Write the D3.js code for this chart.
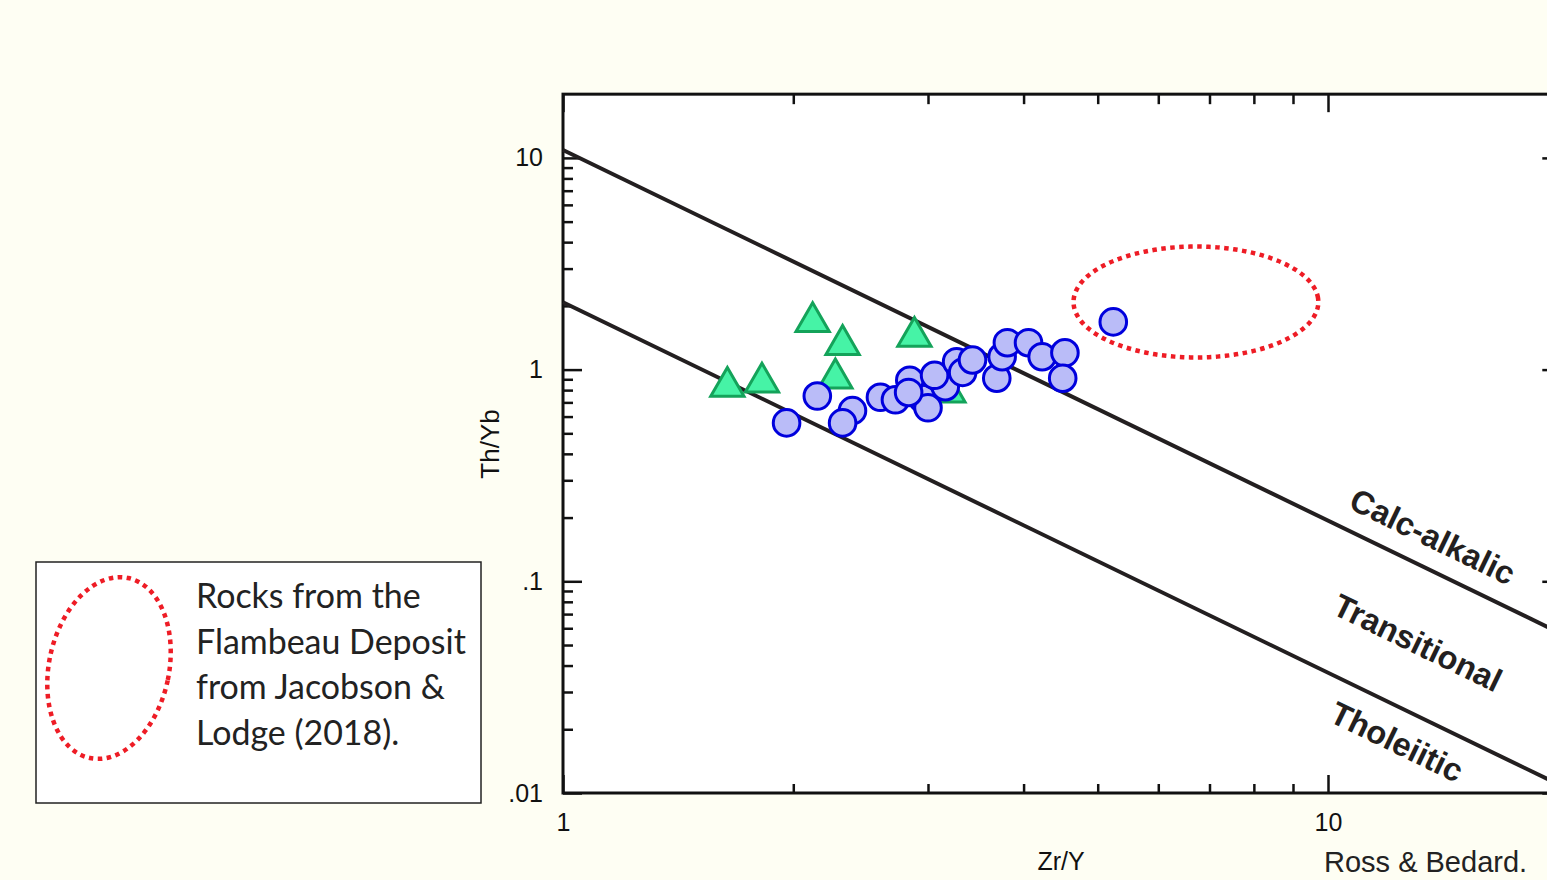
<!DOCTYPE html>
<html>
<head>
<meta charset="utf-8">
<script src="https://cdn.jsdelivr.net/npm/d3@7"></script>
<style>
  html, body { margin: 0; padding: 0; background: #fefef3; overflow: hidden; }
  svg { display: block; }
</style>
</head>
<body>
<svg id="chart" width="1547" height="880"></svg>
<script>
// Ross & Bedard Th/Yb vs Zr/Y diagram

// sample points (Zr/Y, Th/Yb)
var triZr = [1.64, 1.82, 2.12, 2.32, 2.27, 2.88, 3.19];
var triTh = [0.83, 0.87, 1.68, 1.31, 0.91, 1.43, 0.78];

var circZr = [1.96, 2.15, 2.39, 2.32, 2.60, 2.72, 2.95, 3.00, 3.16, 2.84, 3.06, 3.27, 3.33, 3.43,
              3.69, 3.75, 3.81, 4.06, 4.23, 4.53, 4.50, 5.24, 2.83];
var circTh = [0.56, 0.75, 0.64, 0.56, 0.74, 0.72, 0.73, 0.66, 0.83, 0.89, 0.94, 1.09, 0.97, 1.11,
              0.91, 1.15, 1.34, 1.34, 1.15, 1.20, 0.91, 1.68, 0.78];

// field boundaries (two points each, at Zr/Y = 1 and 20)
var upperLine = [[1, 10.9], [20, 0.0575]];
var lowerLine = [[1, 2.08], [20, 0.011]];

// field names and where they sit (data coords)
var fieldNames = ["Calc-alkalic", "Transitional", "Tholeiitic"];
var fieldZr = [13.7, 13.1, 12.3];
var fieldTh = [0.162, 0.0511, 0.0174];

// Flambeau field ellipse: centre and half-widths in decades
var flambeauCentre = [6.72, 2.086];
var flambeauRadii = [0.160, 0.262];

// axis ticks
var yMajor = [0.01, 0.1, 1, 10];
var yLabels = [".01", ".1", "1", "10"];
var xMajor = [1, 10];
var xLabels = ["1", "10"];

var legendLines = ["Rocks from the", "Flambeau Deposit", "from Jacobson &", "Lodge (2018)."];

var svg = d3.select("#chart");

var left = 563, bottom = 793;
var xDec = 765, yDec = 211.7;

var x = d3.scaleLog().domain([1, 20]).range([left, left + xDec * Math.log10(20)]);
var y = d3.scaleLog().domain([0.01, 20]).range([bottom, bottom - yDec * (2 + Math.log10(20))]);

var x0 = x.range()[0], x1 = x.range()[1];
var y0 = y.range()[0], y1 = y.range()[1];

function minorTicks(scale) {
    var d = scale.domain(), out = [];
    for (var p = Math.floor(Math.log10(d[0])); p <= Math.ceil(Math.log10(d[1])); p++) {
        for (var m = 2; m <= 9; m++) {
            var v = m * Math.pow(10, p);
            if (v > d[0] && v < d[1]) out.push(v);
        }
    }
    return out;
}

// plot area
svg.append("rect")
    .attr("x", x0).attr("y", y1)
    .attr("width", x1 - x0).attr("height", y0 - y1)
    .attr("fill", "#fff");

// axes with inward ticks
function addAxis(axisFn, scale, transform, values, size, fmt, pad) {
    var a = axisFn(scale).tickValues(values).tickSizeInner(-size).tickSizeOuter(0)
        .tickPadding(pad || 0)
        .tickFormat(fmt ? function(d, i) { return fmt[i]; } : function() { return ""; });
    var g = svg.append("g").attr("transform", transform).call(a);
    g.select(".domain").remove();
    g.selectAll(".tick line").attr("stroke", "#111").attr("stroke-width", 2.5);
    g.selectAll("text")
        .attr("fill", "#111")
        .style("font-family", "'Liberation Sans', Arial, sans-serif")
        .style("font-size", "25px");
    return g;
}

addAxis(d3.axisLeft, y, "translate(" + x0 + ",0)", yMajor, 19, yLabels, 20);
addAxis(d3.axisLeft, y, "translate(" + x0 + ",0)", minorTicks(y), 10);
addAxis(d3.axisRight, y, "translate(" + x1 + ",0)", yMajor, 16);
addAxis(d3.axisRight, y, "translate(" + x1 + ",0)", minorTicks(y), 10);
addAxis(d3.axisBottom, x, "translate(0," + y0 + ")", xMajor, 18, xLabels, 20);
addAxis(d3.axisBottom, x, "translate(0," + y0 + ")", minorTicks(x), 9);
addAxis(d3.axisTop, x, "translate(0," + y1 + ")", xMajor, 18);
addAxis(d3.axisTop, x, "translate(0," + y1 + ")", minorTicks(x), 10);

// frame
svg.append("rect")
    .attr("x", x0).attr("y", y1)
    .attr("width", x1 - x0).attr("height", y0 - y1)
    .attr("fill", "none")
    .attr("stroke", "#111").attr("stroke-width", 3);

// boundary lines
var line = d3.line()
    .x(function(d) { return x(d[0]); })
    .y(function(d) { return y(d[1]); });

[upperLine, lowerLine].forEach(function(l) {
    svg.append("path")
        .attr("d", line(l))
        .attr("fill", "none")
        .attr("stroke", "#231f20")
        .attr("stroke-width", 4);
});

// field labels, rotated along the boundary slope
var angle = Math.atan2(y(upperLine[1][1]) - y(upperLine[0][1]), x(upperLine[1][0]) - x(upperLine[0][0])) * 180 / Math.PI;
fieldNames.forEach(function(name, i) {
    var px = x(fieldZr[i]), py = y(fieldTh[i]);
    svg.append("text")
        .attr("transform", "translate(" + px + "," + py + ") rotate(" + angle + ")")
        .attr("text-anchor", "middle")
        .attr("dominant-baseline", "central")
        .attr("fill", "#231f20")
        .style("font-family", "'Liberation Sans', Arial, sans-serif")
        .style("font-weight", "bold")
        .style("font-size", "32.5px")
        .text(name);
});

// Flambeau field as a dotted ellipse in log space
var ellPts = d3.range(0, 361, 4).map(function(a) {
    var t = a * Math.PI / 180;
    return [
        Math.pow(10, Math.log10(flambeauCentre[0]) + flambeauRadii[0] * Math.cos(t)),
        Math.pow(10, Math.log10(flambeauCentre[1]) + flambeauRadii[1] * Math.sin(t))
    ];
});
svg.append("path")
    .attr("d", line.curve(d3.curveCardinalClosed)(ellPts))
    .attr("fill", "none")
    .attr("stroke", "#ee1c25")
    .attr("stroke-width", 4.5)
    .attr("stroke-dasharray", "4.5,4.5");
line.curve(d3.curveLinear);

// triangles
var tri = d3.symbol().type(d3.symbolTriangle).size(480);
triZr.forEach(function(z, i) {
    svg.append("path")
        .attr("d", tri())
        .attr("transform", "translate(" + x(z) + "," + y(triTh[i]) + ")")
        .attr("fill", "#46f3a6")
        .attr("stroke", "#14a35a")
        .attr("stroke-width", 3);
});

// circles
circZr.forEach(function(z, i) {
    svg.append("circle")
        .attr("cx", x(z)).attr("cy", y(circTh[i])).attr("r", 13.3)
        .attr("fill", "#babcf8")
        .attr("stroke", "#0000dd")
        .attr("stroke-width", 3);
});

// axis titles
svg.append("text")
    .attr("transform", "translate(499,444) rotate(-90)")
    .attr("text-anchor", "middle")
    .attr("fill", "#111")
    .style("font-family", "'Liberation Sans', Arial, sans-serif")
    .style("font-size", "26px")
    .text("Th/Yb");

svg.append("text")
    .attr("x", 1061).attr("y", 870)
    .attr("text-anchor", "middle")
    .attr("fill", "#111")
    .style("font-family", "'Liberation Sans', Arial, sans-serif")
    .style("font-size", "25px")
    .text("Zr/Y");

svg.append("text")
    .attr("x", 1324).attr("y", 872)
    .attr("fill", "#222")
    .style("font-family", "'Liberation Sans', Arial, sans-serif")
    .style("font-size", "29px")
    .text("Ross & Bedard.");

// legend box
var legend = svg.append("g");
legend.append("rect")
    .attr("x", 36).attr("y", 562)
    .attr("width", 445).attr("height", 241)
    .attr("fill", "#fff")
    .attr("stroke", "#222").attr("stroke-width", 1.5);

legend.append("ellipse")
    .attr("transform", "translate(109,668) rotate(12)")
    .attr("rx", 60).attr("ry", 92)
    .attr("fill", "none")
    .attr("stroke", "#ee1c25")
    .attr("stroke-width", 4.5)
    .attr("stroke-dasharray", "4.5,4.5");

var legText = legend.append("text")
    .attr("fill", "#222")
    .style("font-family", "Lato, 'Open Sans', sans-serif")
    .style("font-size", "34px");
legendLines.forEach(function(s, i) {
    legText.append("tspan").attr("x", 196).attr("y", 608 + i * 45.5).text(s);
});
// fit to the reference width of "Flambeau Deposit"
var w = legText.select("tspan:nth-child(2)").node().getComputedTextLength();
legText.style("font-size", (34 * 270 / w) + "px");
</script>
</body>
</html>
